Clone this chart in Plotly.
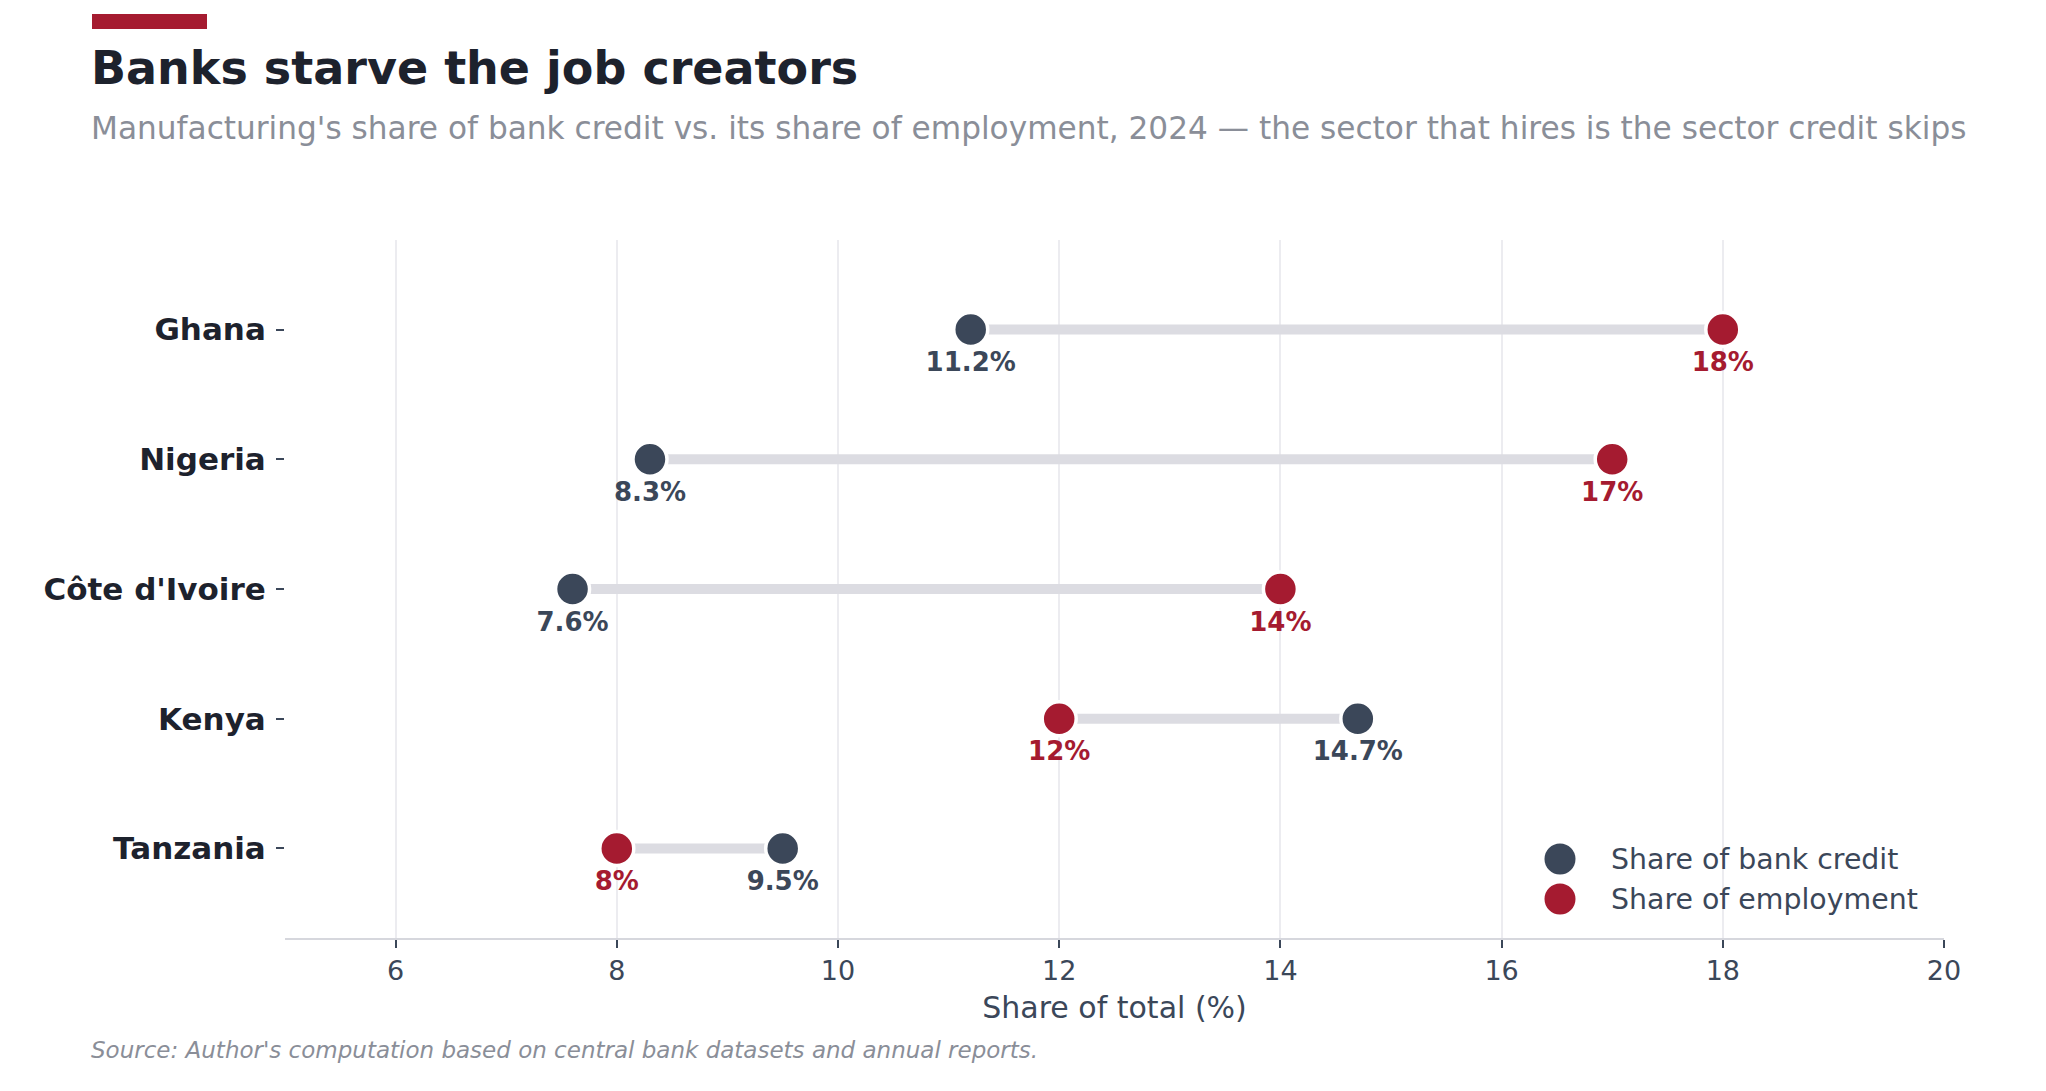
import plotly.graph_objects as go

# data
countries = ["Ghana", "Nigeria", "Côte d'Ivoire", "Kenya", "Tanzania"]
credit_share = [11.2, 8.3, 7.6, 14.7, 9.5]
employment_share = [18, 17, 14, 12, 8]

x_ticks = [6, 8, 10, 12, 14, 16, 18, 20]
series_names = ["Share of bank credit", "Share of employment"]

NAVY = "#3b4759"
RED = "#a51b30"
INK = "#1d222d"
MUTED = "#8a8e98"
FONT = "DejaVu Sans"

W, H = 2046, 1091
ML, MR, MT, MB = 277, 110, 232, 161
PW, PH = W - ML - MR, H - MT - MB


def px_x(px):
    return (px - ML) / PW


def px_y(py):
    return (H - MB - py) / PH


fig = go.Figure()

# connector lines
for c, a, b in zip(countries, credit_share, employment_share):
    fig.add_trace(go.Scatter(x=[a, b], y=[c, c], mode="lines",
                             line=dict(color="#dcdce2", width=10),
                             showlegend=False, hoverinfo="skip"))

for vals, col, name in [(credit_share, NAVY, series_names[0]), (employment_share, RED, series_names[1])]:
    fig.add_trace(go.Scatter(x=vals, y=countries, mode="markers+text", name=name, showlegend=False,
                             marker=dict(size=34, color=col, line=dict(color="white", width=3.5)),
                             text=[f"{v:g}%" for v in vals], textposition="bottom center",
                             textfont=dict(size=26, color=col, family=FONT, weight="bold")))

fig.update_xaxes(range=[5, 20], tickvals=x_ticks, showgrid=True, gridcolor="#ececf0", gridwidth=2,
                 zeroline=False, showline=True, linecolor="#d6d7dd", linewidth=2,
                 ticks="outside", ticklen=8, tickcolor="#3b4759", tickwidth=2,
                 tickfont=dict(size=27, color="#3b4759", family=FONT),
                 title=dict(text="Share of total (%)", standoff=12,
                            font=dict(size=30, color="#3b4759", family=FONT)))

fig.update_yaxes(categoryorder="array", categoryarray=countries, range=[4.69, -0.69],
                 showgrid=False, zeroline=False, showline=False,
                 ticks="outside", ticklen=8, tickcolor="#3b4759", tickwidth=1.5,
                 ticklabelstandoff=4,
                 tickfont=dict(size=31, color=INK, family=FONT, weight="bold"))

# accent bar above the title
fig.add_shape(type="rect", xref="paper", yref="paper",
              x0=px_x(84), x1=px_x(199), y0=px_y(21), y1=px_y(6),
              fillcolor=RED, line=dict(width=0))

# legend drawn by hand so the symbols match the marker size
for i, (name, col) in enumerate(zip(series_names, [NAVY, RED])):
    cy = px_y(851 + 40 * i)
    fig.add_shape(type="circle", xref="paper", yref="paper",
                  xsizemode="pixel", ysizemode="pixel",
                  xanchor=px_x(1552), yanchor=cy, x0=-15.5, x1=15.5, y0=-15.5, y1=15.5,
                  fillcolor=col, line=dict(width=0))
    fig.add_annotation(text=name, xref="paper", yref="paper", x=px_x(1601), y=cy,
                       xanchor="left", yanchor="middle", showarrow=False,
                       font=dict(size=28.4, color="#3b4759", family=FONT))

fig.add_annotation(text="<b>Banks starve the job creators</b>", xref="paper", yref="paper",
                   x=px_x(81), y=px_y(60), xanchor="left", yanchor="middle", showarrow=False,
                   font=dict(size=46, color=INK, family=FONT))
fig.add_annotation(text="Manufacturing's share of bank credit vs. its share of employment, 2024 "
                        "\u2014 the sector that hires is the sector credit skips",
                   xref="paper", yref="paper", x=px_x(81), y=px_y(120),
                   xanchor="left", yanchor="middle", showarrow=False,
                   font=dict(size=31.2, color=MUTED, family=FONT))
fig.add_annotation(text="<i>Source: Author's computation based on central bank datasets and annual reports.</i>",
                   xref="paper", yref="paper", x=px_x(81), y=px_y(1042),
                   xanchor="left", yanchor="middle", showarrow=False,
                   font=dict(size=23, color=MUTED, family=FONT))

fig.update_layout(width=W, height=H, margin=dict(l=ML, r=MR, t=MT, b=MB),
                  paper_bgcolor="white", plot_bgcolor="white",
                  font=dict(family=FONT, color="#3b4759"),
                  showlegend=False)

fig.write_html("out.html")
